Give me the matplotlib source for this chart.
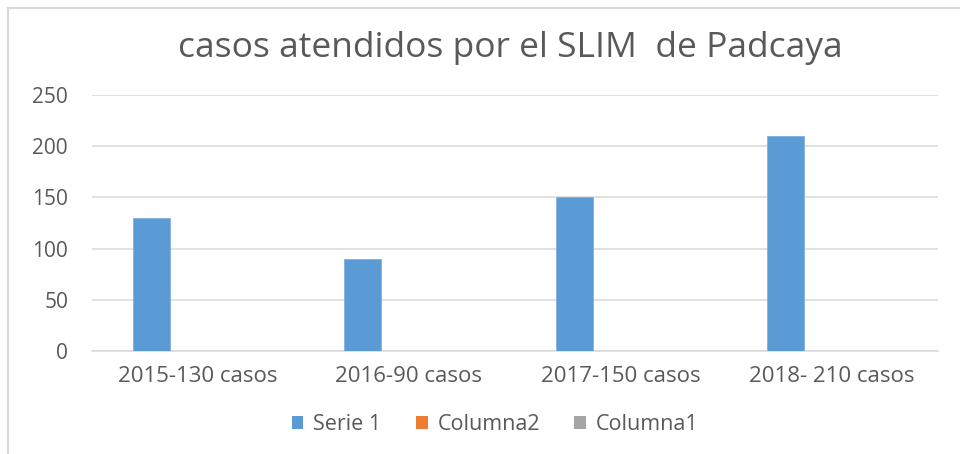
import numpy as np
import matplotlib
matplotlib.use("Agg")
import matplotlib.pyplot as plt
import matplotlib.patches as mpatches

# ── data ──
categories = ["2015-130 casos", "2016-90 casos", "2017-150 casos", "2018- 210 casos"]
serie1 = [130, 90, 150, 210]
columna2 = [0, 0, 0, 0]
columna1 = [0, 0, 0, 0]
series_names = ["Serie 1", "Columna2", "Columna1"]
series_colors = ["#5B9BD5", "#ED7D31", "#A5A5A5"]
yticks = [0, 50, 100, 150, 200, 250]

plt.rcParams["font.family"] = ["Open Sans", "DejaVu Sans"]
TXT = "#595959"

fig = plt.figure(figsize=(9.6, 4.54), dpi=100)
ax = fig.add_axes([91.7 / 960, 103 / 454, 846 / 960, 256 / 454])

x = np.arange(len(categories))
width = 0.175
offsets = [-0.2175, 0.0, 0.2175]
for vals, off, col, name in zip([serie1, columna2, columna1], offsets, series_colors, series_names):
    ax.bar(x + off, vals, width=width, color=col, edgecolor="#7FB0DD",
           linewidth=0.6, label=name, zorder=3)

ax.set_xlim(-0.5, len(categories) - 0.5)
ax.set_ylim(0, 250)
ax.set_yticks(yticks)
ax.set_yticklabels([str(v) for v in yticks], fontsize=15, color=TXT)
ax.set_xticks(x)
ax.set_xticklabels(categories, fontsize=16, color=TXT)
ax.tick_params(axis="both", length=0)
ax.tick_params(axis="y", pad=17)
ax.tick_params(axis="x", pad=11)

ax.yaxis.grid(True, color="#D9D9D9", linewidth=1.1, zorder=0)
ax.xaxis.grid(False)
ax.set_axisbelow(True)
for s in ["top", "right", "left"]:
    ax.spines[s].set_visible(False)
ax.spines["bottom"].set_color("#D9D9D9")
ax.spines["bottom"].set_linewidth(1.1)

fig.text(510 / 960, 1 - 48 / 454, "casos atendidos por el SLIM  de Padcaya",
         fontsize=25.5, color=TXT, ha="center", va="center")

handles = [mpatches.Patch(facecolor=c, edgecolor="none", label=n)
           for c, n in zip(series_colors, series_names)]
fig.legend(handles=handles, loc="center", ncol=3, frameon=False,
           bbox_to_anchor=(495 / 960, 1 - 425 / 454), fontsize=15.5,
           handlelength=0.55, handleheight=0.55, handletextpad=0.45,
           columnspacing=1.6, labelcolor=TXT)

# chart border (only top and left edges visible in the crop)
fig.add_artist(mpatches.Rectangle((8 / 960, -0.1), 1.2, 1 - 8 / 454 + 0.1,
                                  transform=fig.transFigure, fill=False,
                                  edgecolor="#D9D9D9", linewidth=1.6))

fig.savefig("out.png", dpi=100, facecolor="white")
